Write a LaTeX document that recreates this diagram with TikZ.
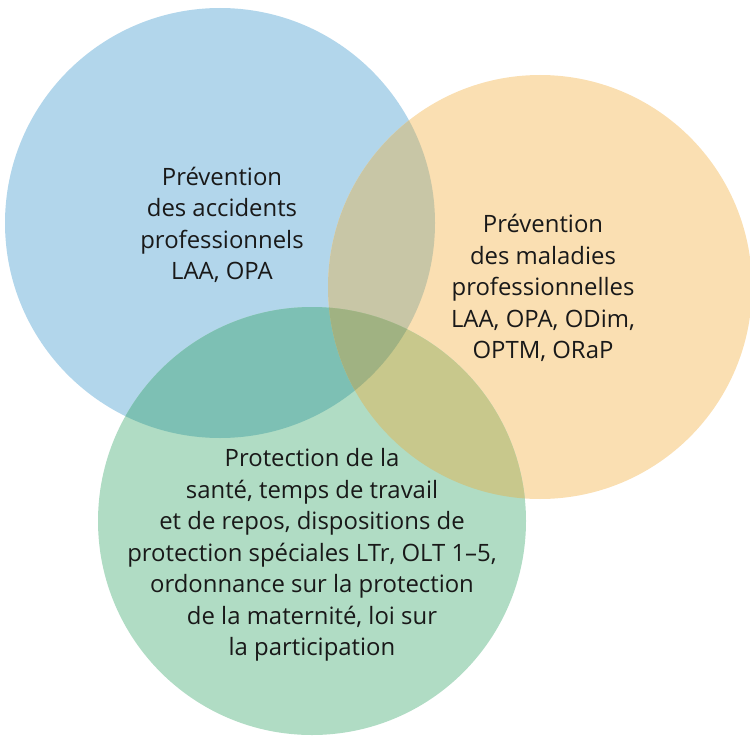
\documentclass[tikz,border=0pt]{standalone}
\usepackage{fontspec}
\setmainfont{Open Sans}
\usepackage{tikz}
\usetikzlibrary{positioning}
\definecolor{accidents-blue}{RGB}{178,214,235}
\definecolor{maladies-orange}{RGB}{250,223,178}
\definecolor{sante-green}{RGB}{176,220,196}
\definecolor{blue-orange}{RGB}{200,198,166}
\definecolor{blue-green}{RGB}{125,192,180}
\definecolor{orange-green}{RGB}{200,200,140}
\definecolor{all-three}{RGB}{160,178,130}
\tikzstyle{label-text} = [align=center, text=black!90, font=\fontsize{13.6}{17.9}\selectfont]

\begin{document}
\begin{tikzpicture}[x=0.02cm,y=0.02cm]
        \useasboundingbox (0,0) rectangle (750,735);
        \coordinate (accidents-center) at (220,512);
        \coordinate (maladies-center) at (540,448);
        \coordinate (sante-center) at (312,214);
        
        % base discs
        \fill [accidents-blue] (accidents-center) circle (215);
        \fill [maladies-orange] (maladies-center) circle (212);
        \fill [sante-green] (sante-center) circle (214);
        
        % overlaps
        \begin{scope}
            \clip (accidents-center) circle (215);
            \fill [blue-orange] (maladies-center) circle (212);
            \fill [blue-green] (sante-center) circle (214);
        \end{scope}
        \begin{scope}
            \clip (maladies-center) circle (212);
            \fill [orange-green] (sante-center) circle (214);
            \clip (accidents-center) circle (215);
            \fill [all-three] (sante-center) circle (214);
        \end{scope}
        
        \node (accidents-text) [label-text] at (222,510) {Prévention\\ des accidents\\ professionnels\\ LAA, OPA};
        \node (maladies-text) [label-text] at (543,447) {Prévention\\ des maladies\\ professionnelles\\ LAA, OPA, ODim,\\ OPTM, ORaP};
        \node (sante-text) [label-text] at (312,180) {Protection de la\\ santé, temps de travail\\ et de repos, dispositions de\\ protection spéciales LTr, OLT 1--5,\\ ordonnance sur la protection\\ de la maternité, loi sur\\ la participation};
    \end{tikzpicture}
\end{document}
